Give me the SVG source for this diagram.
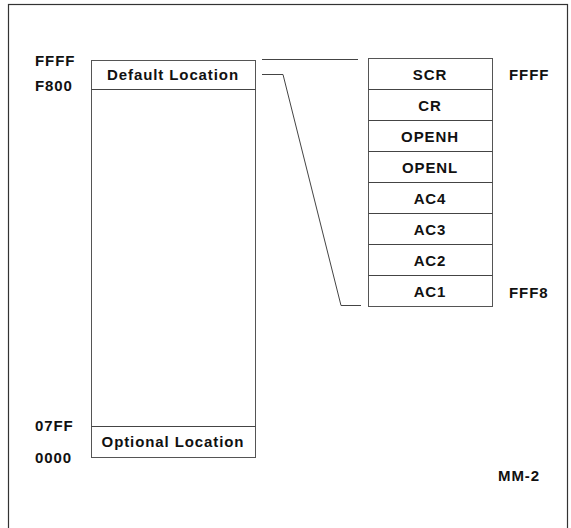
<svg xmlns="http://www.w3.org/2000/svg" width="571" height="528" viewBox="0 0 571 528">
<style>
.t{font-family:"Liberation Sans",Arial,sans-serif;font-weight:bold;font-size:15px;fill:#111;letter-spacing:0.9px}
.c{text-anchor:middle}
.b{fill:#fff;stroke:#555;stroke-width:1}
.l{fill:none;stroke:#444;stroke-width:1}
</style>
<rect x="0" y="0" width="571" height="528" fill="#fff"/>
<rect x="8.5" y="4.5" width="559" height="530" fill="none" stroke="#333" stroke-width="1.2"/>
<g id="memory-map">
<rect class="b" x="91.5" y="60.5" width="164" height="397"/>
<line class="l" x1="91.5" y1="89.5" x2="255.5" y2="89.5"/>
<line class="l" x1="91.5" y1="426.5" x2="255.5" y2="426.5"/>
<text class="t c" x="173" y="80">Default Location</text>
<text class="t c" x="173" y="447">Optional Location</text>
<text class="t" x="35" y="66">FFFF</text>
<text class="t" x="35" y="91">F800</text>
<text class="t" x="35" y="431">07FF</text>
<text class="t" x="35" y="463">0000</text>
</g>
<g id="registers">
<rect class="b" x="368.5" y="58.5" width="124" height="248"/>
<line class="l" x1="368.5" y1="89.5" x2="492.5" y2="89.5"/>
<line class="l" x1="368.5" y1="120.5" x2="492.5" y2="120.5"/>
<line class="l" x1="368.5" y1="151.5" x2="492.5" y2="151.5"/>
<line class="l" x1="368.5" y1="182.5" x2="492.5" y2="182.5"/>
<line class="l" x1="368.5" y1="213.5" x2="492.5" y2="213.5"/>
<line class="l" x1="368.5" y1="244.5" x2="492.5" y2="244.5"/>
<line class="l" x1="368.5" y1="275.5" x2="492.5" y2="275.5"/>
<text class="t c" x="430" y="80">SCR</text>
<text class="t c" x="430" y="111">CR</text>
<text class="t c" x="430" y="142">OPENH</text>
<text class="t c" x="430" y="173">OPENL</text>
<text class="t c" x="430" y="204">AC4</text>
<text class="t c" x="430" y="235">AC3</text>
<text class="t c" x="430" y="266">AC2</text>
<text class="t c" x="430" y="297">AC1</text>
<text class="t" x="509" y="80">FFFF</text>
<text class="t" x="509" y="298">FFF8</text>
</g>
<g id="connectors">
<line class="l" x1="262" y1="59.5" x2="358" y2="59.5"/>
<polyline class="l" points="262,74.5 283,74.5 341,305.5 361,305.5"/>
</g>
<text class="t" x="498" y="481">MM-2</text>
</svg>
